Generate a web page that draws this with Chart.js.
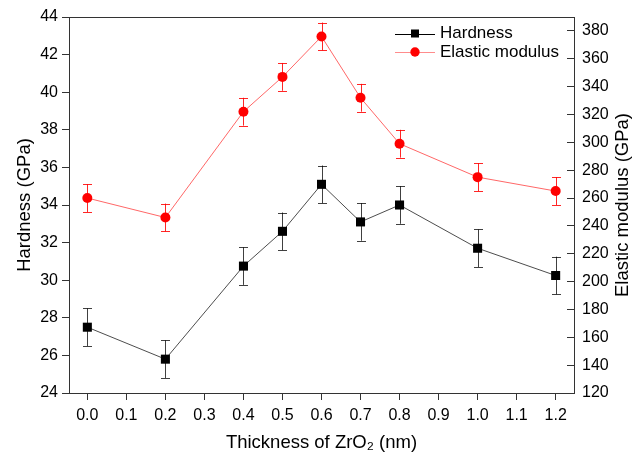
<!DOCTYPE html>
<html>
<head>
<meta charset="utf-8">
<script src="https://cdn.jsdelivr.net/npm/chart.js@4.4.0/dist/chart.umd.min.js"></script>
<style>
  html, body { margin: 0; padding: 0; background: #fff; }
  #wrap { width: 634px; height: 455px; }
</style>
</head>
<body>
<div id="wrap"><canvas id="c1"></canvas></div>
<script>
// data
const thickness = [0.0, 0.2, 0.4, 0.5, 0.6, 0.7, 0.8, 1.0, 1.2];
const hardness = [27.5, 25.8, 30.75, 32.6, 35.1, 33.1, 34.0, 31.7, 30.25];
const hardnessErr = [1.0, 1.0, 1.0, 1.0, 1.0, 1.0, 1.0, 1.0, 1.0];
const modulus = [260, 246, 322, 347, 376, 332, 299, 275, 265];
const modulusErr = [10, 10, 10, 10, 10, 10, 10, 10, 10];
const seriesNames = ['Hardness', 'Elastic modulus'];

const FONT = "'Liberation Sans', Arial, sans-serif";
Chart.defaults.font.family = FONT;
Chart.defaults.color = '#000';

const errs = [hardnessErr, modulusErr];
const barColors = ['rgba(0,0,0,0.75)', 'rgba(255,0,0,0.85)'];

// error bars, drawn under the markers
const errorBars = {
  id: 'errorBars',
  beforeDatasetsDraw(chart) {
    const ctx = chart.ctx;
    const xs = chart.scales.x;
    chart.data.datasets.forEach((ds, i) => {
      const ys = chart.scales[chart.getDatasetMeta(i).yAxisID];
      ctx.save();
      ctx.strokeStyle = barColors[i];
      ctx.lineWidth = 1;
      ds.data.forEach((p, k) => {
        const x = Math.round(xs.getPixelForValue(p.x)) + 0.5;
        const y1 = ys.getPixelForValue(p.y + errs[i][k]);
        const y2 = ys.getPixelForValue(p.y - errs[i][k]);
        ctx.beginPath();
        ctx.moveTo(x, y1); ctx.lineTo(x, y2);
        ctx.moveTo(x - 4.5, Math.round(y1) + 0.5); ctx.lineTo(x + 4.5, Math.round(y1) + 0.5);
        ctx.moveTo(x - 4.5, Math.round(y2) + 0.5); ctx.lineTo(x + 4.5, Math.round(y2) + 0.5);
        ctx.stroke();
      });
      ctx.restore();
    });
  }
};

// top frame line, right axis title, legend
const extras = {
  id: 'extras',
  afterDraw(chart) {
    const ctx = chart.ctx;
    const a = chart.chartArea;
    ctx.save();
    ctx.strokeStyle = '#333';
    ctx.lineWidth = 1;
    ctx.beginPath();
    ctx.moveTo(a.left, Math.round(a.top) + 0.5);
    ctx.lineTo(a.right, Math.round(a.top) + 0.5);
    ctx.stroke();

    // right title, reads bottom to top
    ctx.fillStyle = '#000';
    ctx.font = '18.5px ' + FONT;
    ctx.textAlign = 'center';
    ctx.textBaseline = 'middle';
    ctx.translate(chart.scales.y1.right - 11, (a.top + a.bottom) / 2);
    ctx.rotate(-Math.PI / 2);
    ctx.fillText('Elastic modulus (GPa)', 0, 0);
    ctx.restore();

    // legend
    ctx.save();
    ctx.font = '17px ' + FONT;
    ctx.textAlign = 'left';
    ctx.textBaseline = 'middle';
    const lx = a.right - 179;
    const rows = [a.top + 16.5, a.top + 35];
    const lineCols = ['#000', 'rgba(255,0,0,0.45)'];
    rows.forEach((ry, i) => {
      ctx.strokeStyle = lineCols[i];
      ctx.lineWidth = 1;
      ctx.beginPath();
      ctx.moveTo(lx, Math.round(ry) + 0.5);
      ctx.lineTo(lx + 40, Math.round(ry) + 0.5);
      ctx.stroke();
      const mx = lx + 20;
      if (i === 0) {
        ctx.fillStyle = '#000';
        ctx.fillRect(mx - 4, ry - 4, 8, 8);
      } else {
        ctx.fillStyle = '#ff0000';
        ctx.beginPath();
        ctx.arc(mx, ry, 4.7, 0, Math.PI * 2);
        ctx.fill();
      }
      ctx.fillStyle = '#000';
      ctx.fillText(seriesNames[i], lx + 45, ry);
    });
    ctx.restore();
  }
};

const noPad = s => { s.paddingTop = 0; s.paddingBottom = 0; };

const ctx = document.getElementById('c1').getContext('2d');
const myChart = new Chart(ctx, {
  type: 'line',
  data: {
    datasets: [
      {
        label: seriesNames[0],
        data: thickness.map((t, i) => ({ x: t, y: hardness[i] })),
        yAxisID: 'y',
        borderColor: 'rgba(0,0,0,0.7)',
        borderWidth: 1,
        backgroundColor: '#000',
        pointStyle: 'rect',
        pointRadius: 6.4,
        pointBorderWidth: 0,
        pointBackgroundColor: '#000',
        tension: 0
      },
      {
        label: seriesNames[1],
        data: thickness.map((t, i) => ({ x: t, y: modulus[i] })),
        yAxisID: 'y1',
        borderColor: 'rgba(255,0,0,0.6)',
        borderWidth: 1,
        backgroundColor: '#ff0000',
        pointStyle: 'circle',
        pointRadius: 5,
        pointBorderWidth: 0,
        pointBackgroundColor: '#ff0000',
        tension: 0
      }
    ]
  },
  options: {
    responsive: true,
    maintainAspectRatio: false,
    animation: false,
    layout: { padding: { top: 17, left: 0, right: 0, bottom: 0 } },
    plugins: {
      legend: { display: false },
      tooltip: { enabled: false }
    },
    scales: {
      x: {
        type: 'linear',
        position: 'bottom',
        min: -0.047,
        max: 1.247,
        border: { display: true, color: '#333', width: 1 },
        grid: { drawOnChartArea: false, drawTicks: true, tickLength: 7, color: '#333' },
        ticks: {
          stepSize: 0.1,
          includeBounds: false,
          autoSkip: false,
          maxRotation: 0,
          padding: 6,
          font: { size: 16 },
          callback: v => (Math.abs(v) < 1e-9 ? 0 : v).toFixed(1)
        },
        title: {
          display: true,
          text: 'Thickness of ZrO\u2082 (nm)',
          font: { size: 18.5 },
          padding: 1
        },
        afterFit: s => { s.height = 62; s.paddingLeft = 0; s.paddingRight = 0; }
      },
      y: {
        position: 'left',
        min: 24,
        max: 44,
        border: { display: true, color: '#333', width: 1 },
        grid: { drawOnChartArea: false, drawTicks: true, tickLength: 7, color: '#333' },
        ticks: { stepSize: 2, padding: 4, font: { size: 16 } },
        title: {
          display: true,
          text: 'Hardness (GPa)',
          font: { size: 18.5 },
          padding: 14
        },
        afterFit: s => { s.width = 69; noPad(s); }
      },
      y1: {
        position: 'right',
        min: 120,
        max: 390,
        border: { display: true, color: '#333', width: 1 },
        grid: { drawOnChartArea: false, drawTicks: true, tickLength: -7, color: '#333' },
        ticks: { stepSize: 20, includeBounds: false, padding: 15, font: { size: 16 } },
        afterFit: s => { s.width = 60; noPad(s); }
      }
    }
  },
  plugins: [errorBars, extras]
});
</script>
</body>
</html>
